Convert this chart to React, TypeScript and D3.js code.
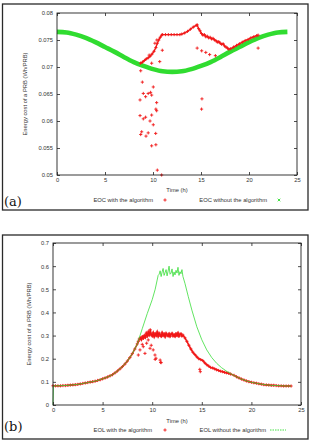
import React, { useEffect, useRef } from "react";
import * as d3 from "d3";

type Pt = [number, number];

// ---- (a) energy cost per PRB, EOC ----
// hourly values, hour 0..24
const eocWithout = [
  0.0765, 0.0764, 0.076, 0.0754, 0.0746, 0.0737, 0.0728, 0.0718, 0.0709, 0.0702, 0.0696, 0.0692, 0.0691,
  0.0692, 0.0696, 0.0702, 0.0709, 0.0718, 0.0728, 0.0737, 0.0746, 0.0754, 0.076, 0.0764, 0.0765,
];

// [hour, Wh/PRB]
const eocWithTrace: Pt[] = [
  [8.7, 0.0707], [8.9, 0.0709], [9.1, 0.0712], [9.3, 0.0715], [9.5, 0.0717], [9.7, 0.072], [9.9, 0.0724],
  [10.1, 0.0729], [10.3, 0.0736], [10.45, 0.0744], [10.6, 0.075], [10.75, 0.0755], [10.9, 0.0759],
  [11.0, 0.076], [11.3, 0.076], [11.6, 0.076], [11.9, 0.076], [12.2, 0.076], [12.5, 0.076], [12.8, 0.076],
  [13.0, 0.0761], [13.3, 0.0763], [13.6, 0.0766], [13.9, 0.077], [14.2, 0.0774], [14.5, 0.0777],
  [14.6, 0.0778], [14.75, 0.0771], [14.9, 0.0767], [15.05, 0.0762], [15.2, 0.0759], [15.35, 0.076],
  [15.5, 0.0756], [15.65, 0.0757], [15.8, 0.0754], [15.95, 0.0755], [16.1, 0.0752], [16.25, 0.0753],
  [16.4, 0.075], [16.55, 0.0749], [16.7, 0.0746], [16.85, 0.0747], [17.0, 0.0744], [17.15, 0.0742],
  [17.3, 0.0743], [17.45, 0.0739], [17.6, 0.0737], [17.75, 0.0735], [17.9, 0.0733], [18.1, 0.0734],
  [18.4, 0.0737], [18.7, 0.074], [19.0, 0.0743], [19.3, 0.0746], [19.6, 0.0749], [19.9, 0.0751],
  [20.2, 0.0754], [20.5, 0.0756], [20.8, 0.0758], [20.95, 0.0759],
];

const eocWithScatter: Pt[] = [
  [8.72, 0.0693], [8.89, 0.0672], [8.99, 0.0651], [8.65, 0.0639], [9.23, 0.0645], [9.5, 0.0651],
  [9.75, 0.0653], [9.86, 0.0648], [10.03, 0.0663], [10.38, 0.0634], [10.3, 0.0622], [10.38, 0.0619],
  [8.65, 0.061], [9.23, 0.0607], [8.99, 0.0604], [9.86, 0.0611], [9.69, 0.06], [10.03, 0.0593],
  [8.82, 0.058], [8.72, 0.0575], [9.5, 0.0578], [9.27, 0.0572], [10.28, 0.0577], [9.86, 0.0554],
  [10.3, 0.0556], [10.45, 0.0509], [10.9, 0.05], [9.86, 0.0707], [9.6, 0.0722], [10.7, 0.071],
  [10.97, 0.0731], [10.4, 0.075], [10.2, 0.0744], [15.1, 0.0641], [15.06, 0.0622], [14.6, 0.0735],
  [15.07, 0.073], [15.5, 0.0727], [15.9, 0.0723], [16.5, 0.0721], [20.95, 0.0735],
];

const eocTicks = [0.05, 0.055, 0.06, 0.065, 0.07, 0.075, 0.08];
const hourTicks = [0, 5, 10, 15, 20, 25];

// ---- (b) energy cost per PRB, EOL ----
const eolWithout: Pt[] = [
  [0, 0], [0.05, 0.083], [0.5, 0.083], [1, 0.084], [1.5, 0.085], [2, 0.087], [2.5, 0.089], [3, 0.093],
  [3.5, 0.097], [4, 0.101], [4.5, 0.106], [5, 0.113], [5.5, 0.121], [6, 0.131], [6.5, 0.147], [7, 0.166],
  [7.5, 0.19], [8, 0.222], [8.5, 0.264], [9, 0.33], [9.5, 0.395], [10, 0.455], [10.3, 0.5], [10.5, 0.54],
  [10.6, 0.56], [10.7, 0.565], [10.8, 0.58], [10.9, 0.555], [11.0, 0.575], [11.1, 0.59], [11.2, 0.56],
  [11.3, 0.572], [11.4, 0.585], [11.5, 0.558], [11.6, 0.578], [11.7, 0.6], [11.8, 0.565], [11.9, 0.57],
  [12.0, 0.588], [12.1, 0.555], [12.2, 0.575], [12.3, 0.562], [12.4, 0.582], [12.5, 0.57], [12.6, 0.595],
  [12.7, 0.56], [12.8, 0.576], [12.9, 0.567], [13.0, 0.585], [13.1, 0.555], [13.3, 0.526], [13.64, 0.468],
  [14, 0.41], [14.5, 0.338], [15, 0.282], [15.5, 0.238], [16, 0.205], [16.5, 0.18], [17, 0.161],
  [17.5, 0.146], [18, 0.133], [18.5, 0.122], [19, 0.112], [19.5, 0.104], [20, 0.098], [20.5, 0.094],
  [21, 0.09], [21.5, 0.087], [22, 0.085], [22.5, 0.084], [23, 0.083], [23.5, 0.082], [24, 0.082],
];

const eolWith: Pt[] = [
  [0, 0.083], [0.25, 0.083], [0.5, 0.083], [0.75, 0.083], [1, 0.084], [1.25, 0.084], [1.5, 0.085],
  [1.75, 0.086], [2, 0.087], [2.25, 0.088], [2.5, 0.089], [2.75, 0.091], [3, 0.093], [3.25, 0.095],
  [3.5, 0.097], [3.75, 0.099], [4, 0.101], [4.25, 0.103], [4.5, 0.106], [4.75, 0.109], [5, 0.113],
  [5.25, 0.117], [5.5, 0.121], [5.75, 0.126], [6, 0.131], [6.25, 0.139], [6.5, 0.147], [6.75, 0.156],
  [7, 0.166], [7.25, 0.177], [7.5, 0.19], [7.75, 0.205], [8, 0.222], [8.25, 0.242], [8.5, 0.264],
  [8.6, 0.275], [8.7, 0.285], [8.8, 0.29], [8.9, 0.282], [9.0, 0.295], [9.1, 0.288], [9.2, 0.3],
  [9.3, 0.292], [9.4, 0.31], [9.5, 0.298], [9.6, 0.315], [9.7, 0.3], [9.8, 0.325], [9.9, 0.305],
  [10.0, 0.298], [10.1, 0.312], [10.2, 0.295], [10.3, 0.308], [10.4, 0.3], [10.5, 0.315], [10.6, 0.297],
  [10.7, 0.31], [10.8, 0.302], [10.9, 0.296], [11.0, 0.312], [11.1, 0.3], [11.2, 0.307], [11.3, 0.295],
  [11.4, 0.31], [11.5, 0.302], [11.6, 0.298], [11.7, 0.308], [11.8, 0.296], [11.9, 0.305], [12.0, 0.31],
  [12.1, 0.298], [12.2, 0.304], [12.3, 0.296], [12.4, 0.308], [12.5, 0.3], [12.6, 0.311], [12.7, 0.297],
  [12.8, 0.305], [12.9, 0.308], [13.0, 0.298], [13.1, 0.302], [13.3, 0.29], [13.5, 0.275], [13.7, 0.258],
  [13.9, 0.242], [14.1, 0.228], [14.3, 0.218], [14.5, 0.208], [14.7, 0.2], [14.9, 0.196], [15.1, 0.192],
  [15.3, 0.182], [15.5, 0.174], [15.7, 0.168], [15.9, 0.162], [16.1, 0.16], [16.3, 0.156], [16.5, 0.152],
  [16.7, 0.149], [16.9, 0.146], [17.1, 0.144], [17.3, 0.141], [17.5, 0.139], [17.7, 0.137], [17.9, 0.134],
  [18.25, 0.128], [18.5, 0.122], [18.75, 0.117], [19, 0.112], [19.25, 0.108], [19.5, 0.104], [19.75, 0.101],
  [20, 0.098], [20.25, 0.096], [20.5, 0.094], [20.75, 0.092], [21, 0.09], [21.25, 0.088], [21.5, 0.087],
  [21.75, 0.086], [22, 0.085], [22.25, 0.085], [22.5, 0.084], [22.75, 0.083], [23, 0.083], [23.25, 0.082],
  [23.5, 0.082], [23.75, 0.082], [24, 0.082],
];

const eolWithScatter: Pt[] = [
  [8.6, 0.216], [8.77, 0.238], [9.1, 0.252], [9.44, 0.267], [9.78, 0.245], [10.1, 0.238], [10.28, 0.216],
  [10.38, 0.202], [10.8, 0.194], [10.9, 0.183], [9.27, 0.223], [9.6, 0.281], [10.3, 0.197], [10.85, 0.184],
  [9.0, 0.262], [9.9, 0.258], [14.8, 0.154], [14.85, 0.144],
];

const eolTicks = [0, 0.1, 0.2, 0.3, 0.4, 0.5, 0.6, 0.7];

const RED = "#f01818";
const GREEN = "#30dc30";
const FONT = "'Liberation Sans', Arial, sans-serif";

const plus = (x: number, y: number, r = 1.6) => `M${x - r},${y}h${2 * r}M${x},${y - r}v${2 * r}`;
const cross = (x: number, y: number, r = 1.3) =>
  `M${x - r},${y - r}l${2 * r},${2 * r}M${x - r},${y + r}l${2 * r},${-2 * r}`;

interface PanelProps {
  frame: { x: number; y: number; w: number; h: number };
  x: d3.ScaleLinear<number, number>;
  y: d3.ScaleLinear<number, number>;
  yTicks: number[];
  yTitleX: number;
  xTitleY: number;
  tag: string;
  tagY: number;
  children: React.ReactNode;
}

const Panel: React.FC<PanelProps> = ({ frame, x, y, yTicks, yTitleX, xTitleY, tag, tagY, children }) => {
  const axesRef = useRef<SVGGElement>(null);
  const [left, right] = x.range();
  const [bottom, top] = y.range();

  useEffect(() => {
    const g = d3.select(axesRef.current!);
    g.selectAll("*").remove();
    const fmt = (d: any) => String(+(+d).toFixed(3));

    g.append("g")
      .attr("transform", `translate(0,${bottom})`)
      .call(d3.axisBottom(x).tickValues(hourTicks).tickSize(-3).tickSizeOuter(0).tickPadding(3).tickFormat(fmt));
    g.append("g")
      .attr("transform", `translate(0,${top})`)
      .call(d3.axisTop(x).tickValues(hourTicks).tickSize(-3).tickSizeOuter(0).tickFormat(() => ""));
    g.append("g")
      .attr("transform", `translate(${left},0)`)
      .call(d3.axisLeft(y).tickValues(yTicks).tickSize(-3).tickSizeOuter(0).tickPadding(4).tickFormat(fmt));
    g.append("g")
      .attr("transform", `translate(${right},0)`)
      .call(d3.axisRight(y).tickValues(yTicks).tickSize(-3).tickSizeOuter(0).tickFormat(() => ""));

    g.selectAll(".domain").remove();
    g.selectAll("g").attr("font-size", 5.8).attr("font-family", FONT);
    g.selectAll("text").attr("fill", "#333");
    g.selectAll("line").attr("stroke", "#222").attr("stroke-width", 0.8);
  }, [x, y, yTicks, left, right, top, bottom]);

  return (
    <g>
      <rect x={frame.x} y={frame.y} width={frame.w} height={frame.h} fill="none" stroke="#2a2a2a" strokeWidth={1.3} />
      {children}
      <rect x={left} y={top} width={right - left} height={bottom - top} fill="none" stroke="#222" strokeWidth={0.9} />
      <g ref={axesRef} />
      <text
        transform={`translate(${yTitleX},${(top + bottom) / 2}) rotate(-90)`}
        textAnchor="middle"
        dominantBaseline="central"
        fontSize={5.8}
        fontFamily={FONT}
        fill="#333"
      >
        Energy cost of a PRB (Wh/PRB)
      </text>
      <text x={(left + right) / 2} y={xTitleY} textAnchor="middle" dominantBaseline="central" fontSize={5.8} fontFamily={FONT} fill="#333">
        Time (h)
      </text>
      <text x={4} y={tagY} dominantBaseline="central" fontSize={13} fontFamily="'DejaVu Serif', 'Liberation Serif', serif" fill="#111">
        {tag}
      </text>
    </g>
  );
};

const App: React.FC = () => {
  const xA = d3.scaleLinear().domain([0, 25]).range([57, 297]);
  const yA = d3.scaleLinear().domain([0.05, 0.08]).range([175, 13]);
  const xB = d3.scaleLinear().domain([0, 25]).range([53, 301]);
  const yB = d3.scaleLinear().domain([0, 0.7]).range([405, 243]);

  const eocLine = d3
    .line<number>()
    .x((_, i) => xA(i))
    .y((d) => yA(d))
    .curve(d3.curveMonotoneX);
  const ptLineA = d3
    .line<Pt>()
    .x((d) => xA(d[0]))
    .y((d) => yA(d[1]));
  const ptLineB = d3
    .line<Pt>()
    .x((d) => xB(d[0]))
    .y((d) => yB(d[1]));

  const legendText = { fontSize: 5.8, fontFamily: FONT, fill: "#333", textAnchor: "end" as const, dominantBaseline: "central" as const };

  return (
    <svg width={311} height={440} style={{ position: "absolute", left: 0, top: 0, background: "#fff" }}>
      <Panel
        frame={{ x: 2.5, y: 4, w: 305.5, h: 206 }}
        x={xA}
        y={yA}
        yTicks={eocTicks}
        yTitleX={25}
        xTitleY={190}
        tag="(a)"
        tagY={201}
      >
        <path d={eocLine(eocWithout) ?? ""} fill="none" stroke={GREEN} strokeWidth={4.6} />
        <path d={ptLineA(eocWithTrace) ?? ""} fill="none" stroke={RED} strokeWidth={1.4} />
        <path
          d={[...eocWithTrace, ...eocWithScatter].map((d) => plus(xA(d[0]), yA(d[1]))).join("")}
          fill="none"
          stroke={RED}
          strokeWidth={0.9}
        />
        <text x={153} y={200} {...legendText}>EOC with the algorithm</text>
        <path d={plus(165, 200)} stroke={RED} strokeWidth={0.9} />
        <text x={267} y={200} {...legendText}>EOC without the algorithm</text>
        <path d={cross(279, 200)} stroke={GREEN} strokeWidth={0.9} />
      </Panel>
      <Panel
        frame={{ x: 2.5, y: 235, w: 305.5, h: 204 }}
        x={xB}
        y={yB}
        yTicks={eolTicks}
        yTitleX={29}
        xTitleY={421}
        tag="(b)"
        tagY={426}
      >
        <path d={ptLineB(eolWith) ?? ""} fill="none" stroke={RED} strokeWidth={1.6} />
        <path
          d={[...eolWith, ...eolWithScatter].map((d) => plus(xB(d[0]), yB(d[1]))).join("")}
          fill="none"
          stroke={RED}
          strokeWidth={0.9}
        />
        <path d={ptLineB(eolWithout) ?? ""} fill="none" stroke={GREEN} strokeWidth={0.9} strokeOpacity={0.85} />
        <text x={152} y={430} {...legendText}>EOL with the algorithm</text>
        <path d={plus(165, 430)} stroke={RED} strokeWidth={0.9} />
        <text x={266} y={430} {...legendText}>EOL without the algorithm</text>
        <line x1={270} x2={286} y1={430} y2={430} stroke={GREEN} strokeWidth={0.9} strokeDasharray="1.5,1" />
      </Panel>
    </svg>
  );
};

export default App;
